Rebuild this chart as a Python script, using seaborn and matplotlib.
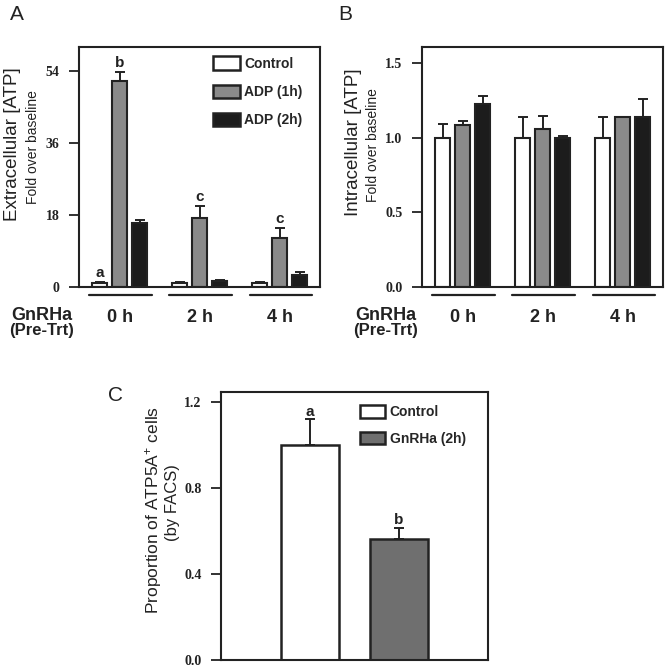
import numpy as np
import pandas as pd
import matplotlib
matplotlib.use("Agg")
import matplotlib.pyplot as plt
import seaborn as sns
from matplotlib.patches import Patch
from matplotlib.transforms import blended_transform_factory

# ---------------------------------------------------------------------------
# Data
# ---------------------------------------------------------------------------

PRETRT     = ["0 h", "2 h", "4 h"]
TREATMENTS = ["Control", "ADP (1h)", "ADP (2h)"]

# Panel A - extracellular ATP, fold over baseline
extra_mean = {"Control": [1.0, 1.0, 1.0],
              "ADP (1h)": [51.5, 17.2, 12.2],
              "ADP (2h)": [16.0, 1.5, 3.0]}
extra_err  = {"Control": [0.3, 0.3, 0.3],
              "ADP (1h)": [2.3, 3.0, 2.5],
              "ADP (2h)": [0.8, 0.2, 0.8]}
extra_sig  = {"Control": ["a", "", ""],
              "ADP (1h)": ["b", "c", "c"],
              "ADP (2h)": ["", "", ""]}

# Panel B - intracellular ATP, fold over baseline
intra_mean = {"Control": [1.0, 1.0, 1.0],
              "ADP (1h)": [1.085, 1.057, 1.137],
              "ADP (2h)": [1.225, 1.0, 1.137]}
intra_err  = {"Control": [0.09, 0.14, 0.14],
              "ADP (1h)": [0.028, 0.09, 0.0],
              "ADP (2h)": [0.05, 0.01, 0.12]}

# Panel C - proportion of ATP5A+ cells
FACS_GROUPS = ["Control", "GnRHa (2h)"]
facs_mean   = [1.0, 0.562]
facs_err    = [0.12, 0.051]
facs_sig    = ["a", "b"]

PALETTE_AB = {"Control": "white", "ADP (1h)": "#8a8a8a", "ADP (2h)": "#1c1c1c"}
PALETTE_C  = {"Control": "white", "GnRHa (2h)": "#6f6f6f"}

SANS  = ["Liberation Sans", "DejaVu Sans"]
SERIF = ["Liberation Serif", "DejaVu Serif"]
INK   = "#222222"

sns.set_style("ticks")
plt.rcParams["font.family"] = SANS
plt.rcParams["mathtext.default"] = "regular"


def to_long(mean, err, sig=None):
    rows = []
    for t in TREATMENTS:
        for i, g in enumerate(PRETRT):
            rows.append({"pretrt": g, "treatment": t, "value": mean[t][i],
                         "err": err[t][i], "sig": sig[t][i] if sig else ""})
    return pd.DataFrame(rows)


def style_axes(ax):
    for s in ax.spines.values():
        s.set_visible(True)
        s.set_linewidth(1.5)
        s.set_color(INK)
    ax.tick_params(axis="y", direction="out", length=7, width=1.3, pad=7,
                   color=INK)
    for lab in ax.get_yticklabels():
        lab.set_family(SERIF)
        lab.set_fontweight("bold")
        lab.set_fontsize(10)
        lab.set_color(INK)
    ax.set_xlabel("")
    ax.set_ylabel("")


def add_errorbars(ax, df, sig_pad=0.0):
    # seaborn draws the bars in hue order; pair each patch with its row
    patches = list(ax.patches)[:len(df)]
    for p, (_, row) in zip(patches, df.iterrows()):
        x = p.get_x() + p.get_width() / 2
        top = p.get_height()
        if row["err"] > 0:
            ax.errorbar(x, top, yerr=[[0], [row["err"]]], fmt="none",
                        ecolor=INK, elinewidth=1.4, capsize=3.3,
                        capthick=1.4, zorder=1)
        if row["sig"]:
            ax.text(x, top + row["err"] + sig_pad, row["sig"], ha="center",
                    va="bottom", fontsize=11, fontweight="bold", color=INK)


fig = plt.figure(figsize=(6.65, 6.72), dpi=100)
axA = fig.add_axes([0.1188, 0.5729, 0.3624, 0.357])
axB = fig.add_axes([0.6346, 0.5729, 0.3624, 0.357])
axC = fig.add_axes([0.3323, 0.0179, 0.4015, 0.3988])

# ---------------------------------------------------------------------------
# Panels A and B
# ---------------------------------------------------------------------------
dfA = to_long(extra_mean, extra_err, extra_sig)
dfB = to_long(intra_mean, intra_err)

for ax, df, ylim, ticks, tlabels in [
        (axA, dfA, (0, 60), [0, 18, 36, 54], ["0", "18", "36", "54"]),
        (axB, dfB, (0, 1.605), [0, 0.5, 1.0, 1.5], ["0.0", "0.5", "1.0", "1.5"])]:
    sns.barplot(data=df, x="pretrt", y="value", hue="treatment",
                order=PRETRT, hue_order=TREATMENTS, palette=PALETTE_AB,
                errorbar=None, width=0.75, gap=0.25, edgecolor=INK,
                linewidth=1.5, legend=False, ax=ax, zorder=2)
    add_errorbars(ax, df, sig_pad=0.008 * (ylim[1] - ylim[0]))
    ax.set_ylim(*ylim)
    ax.set_xlim(-0.51, 2.5)
    ax.set_yticks(ticks)
    ax.set_yticklabels(tlabels)
    ax.set_xticks(range(len(PRETRT)))
    ax.set_xticklabels(PRETRT, fontsize=13, fontweight="bold", color=INK)
    ax.tick_params(axis="x", length=0, pad=16)
    style_axes(ax)
    # group underlines
    trans = blended_transform_factory(ax.transData, ax.transAxes)
    for i in range(len(PRETRT)):
        ax.plot([i - 0.38, i + 0.405], [-0.033, -0.033], transform=trans,
                color=INK, lw=1.6, clip_on=False)

fig.text(0.019, 0.786, "Extracellular [ATP]", rotation=90, ha="center",
         va="center", fontsize=13.5, color=INK)
fig.text(0.050, 0.781, "Fold over baseline", rotation=90, ha="center",
         va="center", fontsize=10, color=INK)
fig.text(0.532, 0.789, "Intracellular [ATP]", rotation=90, ha="center",
         va="center", fontsize=13.5, color=INK)
fig.text(0.561, 0.784, "Fold over baseline", rotation=90, ha="center",
         va="center", fontsize=10, color=INK)

for x0 in (0.063, 0.580):
    fig.text(x0, 0.530, "GnRHa", ha="center", va="center",
             fontsize=13, fontweight="bold", color=INK)
    fig.text(x0, 0.508, "(Pre-Trt)", ha="center", va="center",
             fontsize=12, fontweight="bold", color=INK)

handles = [Patch(facecolor=PALETTE_AB[t], edgecolor=INK, linewidth=1.8,
                 label=t) for t in TREATMENTS]
axA.legend(handles=handles, loc="upper left", frameon=False,
           bbox_to_anchor=(0.556, 0.962), borderpad=0, borderaxespad=0,
           handlelength=1.95, handleheight=1.1, labelspacing=1.0,
           handletextpad=0.3,
           prop={"family": SANS, "weight": "bold", "size": 10})

# ---------------------------------------------------------------------------
# Panel C
# ---------------------------------------------------------------------------
dfC = pd.DataFrame({"group": FACS_GROUPS, "value": facs_mean,
                    "err": facs_err, "sig": facs_sig})
sns.barplot(data=dfC, x="group", y="value", hue="group", order=FACS_GROUPS,
            hue_order=FACS_GROUPS, palette=PALETTE_C, errorbar=None,
            width=0.66, edgecolor=INK, linewidth=1.8, legend=False,
            ax=axC, zorder=2)
add_errorbars(axC, dfC, sig_pad=0.004)
axC.set_ylim(0, 1.248)
axC.set_xlim(-1.0, 2.0)
axC.set_yticks([0, 0.4, 0.8, 1.2])
axC.set_yticklabels(["0.0", "0.4", "0.8", "1.2"])
axC.set_xticks([])
style_axes(axC)
fig.text(0.231, 0.241, "Proportion of ATP5A$^{+}$ cells", rotation=90,
         ha="center", va="center", fontsize=12.5, color=INK)
fig.text(0.260, 0.252, "(by FACS)", rotation=90, ha="center", va="center",
         fontsize=12, color=INK)
handlesC = [Patch(facecolor=PALETTE_C[g], edgecolor=INK, linewidth=1.8,
                  label=g) for g in FACS_GROUPS]
axC.legend(handles=handlesC, loc="upper left", frameon=False,
           bbox_to_anchor=(0.52, 0.952), borderpad=0, borderaxespad=0,
           handlelength=1.8, handleheight=1.05, labelspacing=0.9,
           handletextpad=0.35,
           prop={"family": SANS, "weight": "bold", "size": 10})

# panel letters
fig.text(0.015, 0.978, "A", fontsize=15, ha="left", va="center", color=INK)
fig.text(0.508, 0.978, "B", fontsize=15, ha="left", va="center", color=INK)
fig.text(0.162, 0.412, "C", fontsize=15, ha="left", va="center", color=INK)

fig.savefig("out.png", dpi=100)
plt.close(fig)
